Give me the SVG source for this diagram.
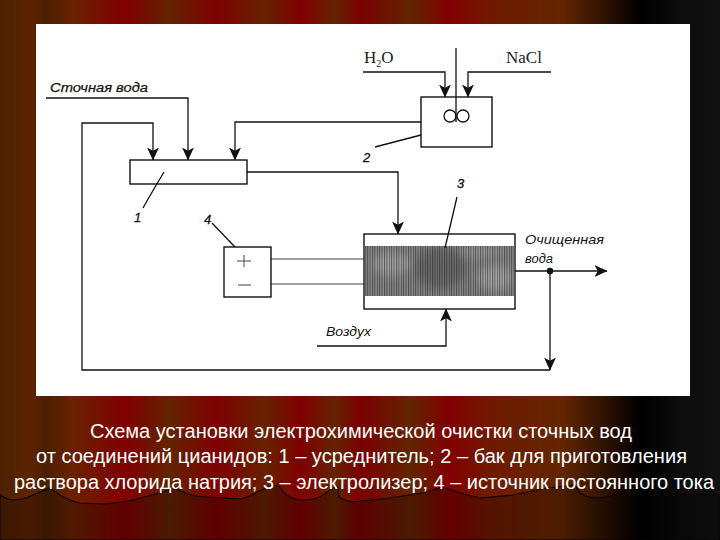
<svg xmlns="http://www.w3.org/2000/svg" width="720" height="540" viewBox="0 0 720 540">
<style>
.ln{fill:none;stroke:#111;stroke-width:1.3}
.thin{fill:none;stroke:#444;stroke-width:1}
.box{fill:#fff;stroke:#111;stroke-width:1.4}
.lb{font-family:"Liberation Sans",Arial,sans-serif;font-style:italic;font-size:13px;fill:#151515}
.num{font-family:"Liberation Sans",Arial,sans-serif;font-style:italic;font-size:13px;fill:#111;stroke:#111;stroke-width:.3}
.ser{font-family:"Liberation Serif","Times New Roman",serif;font-size:17px;fill:#222}
.cap{font-family:"Liberation Sans",Arial,sans-serif;font-size:20px;fill:#fff}
</style>
<defs>
<linearGradient id="bg" x1="0" y1="0" x2="720" y2="0" gradientUnits="userSpaceOnUse">
<stop offset="0" stop-color="#4e2000"/><stop offset=".042" stop-color="#5e2400"/><stop offset=".0625" stop-color="#4a2000"/><stop offset=".1" stop-color="#6a2200"/><stop offset=".174" stop-color="#800000"/><stop offset=".236" stop-color="#622400"/><stop offset=".3" stop-color="#7e0000"/><stop offset=".368" stop-color="#662200"/><stop offset=".417" stop-color="#800000"/><stop offset=".465" stop-color="#642400"/><stop offset=".5" stop-color="#7a0000"/><stop offset=".57" stop-color="#622500"/><stop offset=".625" stop-color="#820000"/><stop offset=".68" stop-color="#701a00"/><stop offset=".78" stop-color="#642600"/><stop offset=".82" stop-color="#401800"/><stop offset=".89" stop-color="#000"/><stop offset=".945" stop-color="#0c0c0c"/><stop offset="1" stop-color="#111"/>
</linearGradient>
<pattern id="hatch" width="2.4" height="6" patternUnits="userSpaceOnUse">
<rect width="1" height="6" fill="#222" fill-opacity=".6"/>
</pattern>
<filter id="soft" x="-10%" y="-10%" width="120%" height="120%"><feGaussianBlur stdDeviation="4"/></filter>
<clipPath id="hc"><rect x="365" y="246" width="149" height="50"/></clipPath>
<marker id="ah" viewBox="0 0 12 12" refX="11.500" refY="6" markerWidth="13" markerHeight="13" markerUnits="userSpaceOnUse" orient="auto">
<path d="M0 0.500L12 6L0 11.500L3 6Z" fill="#111"/>
</marker>
</defs>
<rect id="background" width="720" height="540" fill="url(#bg)"/>
<path id="curtain" d="M0 495Q6 499 13 500Q24 500 33 495L45 490L50 488L60 495Q70 501 80 503L103 504Q120 503 133 500L163 492L175 488L187 494Q197 497 207 497L240 499Q250 497 257 492L273 485L280 487Q284 494 290 497Q296 500 302 500Q312 500 320 497Q328 492 333 488L338 487L339 497Q345 501 353 502L390 498L423 493L443 487L460 493L480 498L513 495L547 488L575 485L580 493Q588 498 597 498Q610 497 620 493L640 487L680 494L720 495V540H0Z" fill="#000" fill-opacity=".24" stroke="#120000" stroke-width="1.2"/>
<rect id="panel" x="36" y="24" width="654" height="372" fill="#fff"/>

<g id="connectors">
<path class="ln" d="M46 98H188V160" marker-end="url(#ah)"/>
<path class="ln" d="M550 271V370" marker-end="url(#ah)"/>
<path class="ln" d="M550 370H82V123H153V160" marker-end="url(#ah)"/>
<path class="ln" d="M421 122H235V160" marker-end="url(#ah)"/>
<path class="ln" d="M247 172H398V234" marker-end="url(#ah)"/>
<path class="ln" d="M363 72H445V97" marker-end="url(#ah)"/>
<path class="ln" d="M551 72H468V97" marker-end="url(#ah)"/>
<path class="ln" d="M515 271H607" marker-end="url(#ah)"/>
<path class="ln" d="M317 346H446V309" marker-end="url(#ah)"/>
<path class="thin" d="M271 259H364M271 284H364"/>
<circle cx="550" cy="271" r="3.2" fill="#111"/>
</g>

<g id="node-1">
<rect class="box" x="130" y="160" width="117" height="24"/>
<path class="ln" d="M164 172Q152 192 143 208"/>
<text class="num" x="134" y="222">1</text>
</g>
<g id="node-2">
<rect class="box" x="421" y="97" width="71" height="50"/>
<path class="ln" d="M456 48V122"/>
<circle class="ln" cx="450" cy="116" r="6"/>
<circle class="ln" cx="463" cy="116" r="6"/>
<path class="ln" d="M421 135L375 147" stroke-width="1.5"/>
<text class="num" x="363" y="162">2</text>
</g>
<g id="node-3">
<rect class="box" x="364" y="234" width="151" height="75"/>
<rect x="365" y="246" width="149" height="50" fill="#8a8a8a"/>
<g clip-path="url(#hc)"><g filter="url(#soft)">
<ellipse cx="392" cy="264" rx="20" ry="12" fill="#a8a8a8"/>
<ellipse cx="440" cy="268" rx="26" ry="20" fill="#6e6e6e"/>
<ellipse cx="495" cy="278" rx="17" ry="13" fill="#acacac"/>
<ellipse cx="482" cy="252" rx="22" ry="6" fill="#a0a0a0"/>
</g></g>
<rect x="365" y="246" width="149" height="50" fill="url(#hatch)"/>
<path class="ln" d="M457 197L445 248"/>
<text class="num" x="457" y="188">3</text>
</g>
<g id="node-4">
<rect class="box" x="224" y="247" width="47" height="50"/>
<path class="thin" d="M237 261H251M244 255V267M238 285H251"/>
<path class="ln" d="M212 223L235 247"/>
<text class="num" x="204" y="224">4</text>
</g>

<g id="labels">
<text class="lb" x="50" y="92" textLength="98" lengthAdjust="spacingAndGlyphs" stroke="#151515" stroke-width=".25">Сточная вода</text>
<text class="ser" x="364" y="63">H<tspan font-size="10" dy="4">2</tspan><tspan dy="-4">O</tspan></text>
<text class="ser" x="506" y="63">NaCl</text>
<text class="lb" x="525" y="244" textLength="79" lengthAdjust="spacingAndGlyphs">Очищенная</text>
<text class="lb" x="525" y="263" textLength="28" lengthAdjust="spacingAndGlyphs">вода</text>
<text class="lb" x="326" y="336" textLength="45" lengthAdjust="spacingAndGlyphs">Воздух</text>
</g>

<g id="caption">
<text class="cap" x="90" y="438" textLength="542" lengthAdjust="spacingAndGlyphs">Схема установки электрохимической очистки сточных вод</text>
<text class="cap" x="36" y="463" textLength="651" lengthAdjust="spacingAndGlyphs">от соединений цианидов: 1 – усреднитель; 2 – бак для приготовления</text>
<text class="cap" x="14" y="489" textLength="700" lengthAdjust="spacingAndGlyphs">раствора хлорида натрия; 3 – электролизер; 4 – источник постоянного тока</text>
</g>
</svg>
